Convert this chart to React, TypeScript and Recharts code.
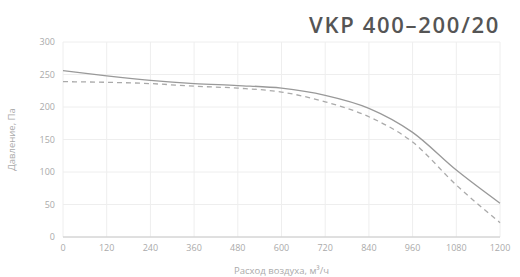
import { LineChart, Line, XAxis, YAxis, CartesianGrid } from "recharts";

const flow = [0, 120, 240, 360, 480, 600, 720, 840, 960, 1080, 1200];
const pressureSolid = [256, 248, 241, 236, 233, 229, 218, 198, 161, 103, 52];
const pressureDashed = [239, 238, 236, 232, 229, 223, 208, 185, 146, 80, 22];
const yTicks = [0, 50, 100, 150, 200, 250, 300];

const data = flow.map((q, i) => ({ q, solid: pressureSolid[i], dashed: pressureDashed[i] }));

const tick = { fontSize: 9, fill: "#aaa", fontFamily: "Open Sans" };

export default function App() {
  return (
    <div style={{ position: "absolute", left: 0, top: 0, width: 520, height: 277, background: "#fff" }}>
      <LineChart width={520} height={277} data={data} margin={{ top: 42, right: 20, left: 0, bottom: 0 }}>
        <CartesianGrid stroke="#eee" />
        <XAxis
          dataKey="q" type="number" domain={[0, 1200]} ticks={flow}
          tick={tick} tickLine={false} axisLine={{ stroke: "#c8c8c8" }} height={40}
          label={{ value: "Расход воздуха, м³/ч", position: "insideBottom", offset: 3, style: { fontSize: 9.5, fill: "#aaa", fontFamily: "Open Sans" } }}
        />
        <YAxis
          domain={[0, 300]} ticks={yTicks} tick={tick} tickLine={false} axisLine={false} width={63}
          label={{ value: "Давление, Па", angle: -90, position: "insideLeft", offset: 12, style: { fontSize: 9.5, fill: "#aaa", fontFamily: "Open Sans", textAnchor: "middle" } }}
        />
        <Line type="monotone" dataKey="solid" stroke="#999" strokeWidth={1.3} dot={false} isAnimationActive={false} />
        <Line type="monotone" dataKey="dashed" stroke="#aaa" strokeWidth={1.3} strokeDasharray="5 4" dot={false} isAnimationActive={false} />
        <text x={500} y={33} textAnchor="end" style={{ fontSize: 22, fontWeight: 600, fill: "#555", fontFamily: "Open Sans", letterSpacing: 1.7 }}>
          VKP 400–200/20
        </text>
      </LineChart>
    </div>
  );
}
